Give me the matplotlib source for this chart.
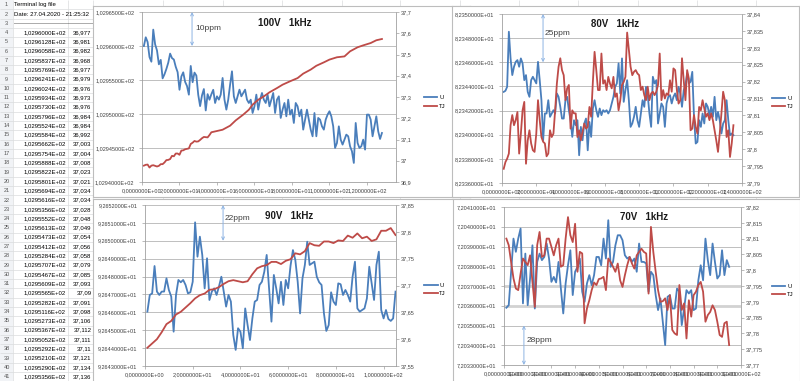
import numpy as np
import matplotlib.pyplot as plt
from matplotlib.patches import Rectangle
from matplotlib.ticker import FuncFormatter

plt.rcParams['font.family'] = ['Liberation Sans', 'DejaVu Sans']

W, H = 800, 381  # canvas in pixels

# ---- data ----
# terminal log (sheet rows 4..41) = first samples of the 100 V run
log_u = [102.96000, 102.96128, 102.96058, 102.95837, 102.95769, 102.96241, 102.96024, 102.95934,
         102.95730, 102.95796, 102.95524, 102.95584, 102.95662, 102.95754, 102.95888, 102.95822,
         102.95801, 102.95694, 102.95616, 102.95356, 102.95552, 102.95613, 102.95473, 102.95412,
         102.95284, 102.95707, 102.95467, 102.95609, 102.95565, 102.95282, 102.95116, 102.95273,
         102.95367, 102.95052, 102.95292, 102.95210, 102.95290, 102.95356]
log_t = [36.977, 36.981, 36.982, 36.968, 36.977, 36.979, 36.976, 36.973, 36.976, 36.984,
         36.984, 36.992, 37.003, 37.004, 37.008, 37.023, 37.021, 37.034, 37.034, 37.028,
         37.048, 37.049, 37.054, 37.056, 37.058, 37.079, 37.085, 37.093, 37.09, 37.091,
         37.098, 37.106, 37.112, 37.111, 37.11, 37.121, 37.134, 37.136]

# 100 V, samples 39..128
u100_tail = [102.95162, 102.95260, 102.95211, 102.95285, 102.95530, 102.95211, 102.95064, 102.95211,
             102.95432, 102.95628, 102.95260, 102.95162, 102.95260, 102.95358, 102.95260, 102.95309,
             102.95358, 102.95211, 102.95162, 102.95211, 102.95015, 102.95113, 102.95285, 102.95064,
             102.95211, 102.95309, 102.95211, 102.95162, 102.95285, 102.95113, 102.95211, 102.95309,
             102.95015, 102.95211, 102.95260, 102.94942, 102.95064, 102.95162, 102.94966, 102.95211,
             102.94991, 102.95064, 102.94868, 102.95162, 102.95113, 102.94966, 102.95064, 102.94770,
             102.94917, 102.95064, 102.94917, 102.94770, 102.94672, 102.95015, 102.94672, 102.94942,
             102.94917, 102.94819, 102.94770, 102.94917, 102.94991, 102.95040, 102.94966, 102.94819,
             102.94501, 102.94574, 102.94819, 102.94623, 102.94550, 102.94623, 102.94697, 102.94672,
             102.94525, 102.94452, 102.94280, 102.94868, 102.94574, 102.94501, 102.94525, 102.94623,
             102.94476, 102.94991, 102.94991, 102.94917, 102.94672, 102.94819, 102.94966, 102.94746,
             102.94633, 102.94721]
t100_tail_x = [40, 43, 47, 50, 54, 57, 59, 62, 65, 68, 72, 75, 79, 83, 86, 90, 93, 97, 100,
               104, 108, 111, 115, 118, 122, 125, 128]
t100_tail = [37.140, 37.146, 37.165, 37.190, 37.217, 37.240, 37.264, 37.287, 37.303, 37.322,
             37.342, 37.358, 37.374, 37.389, 37.410, 37.429, 37.447, 37.463, 37.476, 37.487,
             37.491, 37.515, 37.534, 37.543, 37.554, 37.567, 37.573]

# 80 V
u80 = [82.34355, 82.34364, 82.34397, 82.34853, 82.34632, 82.34494, 82.34563, 82.34604, 82.34618, 82.34563,
       82.34632, 82.34591, 82.34452, 82.34494, 82.34355, 82.34314, 82.34452, 82.34480, 82.34452, 82.34425,
       82.34604, 82.34452, 82.34286, 82.33954, 82.34176, 82.34176, 82.34286, 82.34148, 82.34176, 82.34203,
       82.34176, 82.34342, 82.34314, 82.34231, 82.34134, 82.34134, 82.34286, 82.34314, 82.34203, 82.34120,
       82.33982, 82.34120, 82.34079, 82.34120, 82.33830, 82.34065, 82.33954, 82.34093, 82.34134, 82.33871,
       82.34106, 82.33982, 82.34217, 82.34286, 82.34203, 82.34148, 82.34217, 82.34162, 82.34203, 82.34189,
       82.34203, 82.34176, 82.34203, 82.34259, 82.34314, 82.34397, 82.34425, 82.34591, 82.34342, 82.34632,
       82.34272, 82.34369, 82.34452, 82.34286, 82.34065, 82.34093, 82.34148, 82.34231, 82.34120, 82.34065,
       82.34176, 82.34286, 82.34231, 82.34397, 82.34328, 82.34176, 82.34065, 82.34480, 82.34425, 82.34452,
       82.34093, 82.34176, 82.34259, 82.34231, 82.34065, 82.34259, 82.34314, 82.34328, 82.34259, 82.34314,
       82.34342, 82.34286, 82.34397, 82.34342, 82.34231, 82.34369, 82.34411, 82.34508, 82.34425, 82.34438,
       82.34521, 82.34148, 82.33927, 82.33940, 82.34120, 82.34065, 82.34176, 82.34093, 82.34259, 82.34231,
       82.34162, 82.34231, 82.34148, 82.34314, 82.34120, 82.34189, 82.34120, 82.34010, 82.34093, 82.34120,
       82.34286, 82.34120, 82.33996, 82.34010, 82.33996]
t80 = [37.7942, 37.7962, 37.7972, 37.7987, 37.8071, 37.8101, 37.8071, 37.8086, 37.8110, 37.7987,
       37.8046, 37.8115, 37.8140, 37.7957, 37.8026, 37.8056, 37.8017, 37.7997, 37.7992, 37.8046,
       37.8145, 37.8086, 37.8036, 37.8022, 37.8017, 37.7979, 37.7987, 37.8056, 37.8036, 37.8046,
       37.8115, 37.8194, 37.8244, 37.8269, 37.8234, 37.8219, 37.8145, 37.8180, 37.8190, 37.8061,
       37.8115, 37.8106, 37.8106, 37.8036, 37.8056, 37.8026, 37.8051, 37.8076, 37.8061, 37.8066,
       37.8125, 37.8096, 37.8199, 37.8288, 37.8234, 37.8175, 37.8175, 37.8283, 37.8194, 37.8204,
       37.8175, 37.8214, 37.8194, 37.8180, 37.8214, 37.8155, 37.8165, 37.8115, 37.8145, 37.8190,
       37.8199, 37.8214, 37.8345, 37.8293, 37.8244, 37.8219, 37.8229, 37.8234, 37.8224, 37.8219,
       37.8175, 37.8185, 37.8160, 37.8145, 37.8185, 37.8145, 37.8165, 37.8170, 37.8160, 37.8170,
       37.8190, 37.8283, 37.8145, 37.8175, 37.8150, 37.8165, 37.8160, 37.8204, 37.8170, 37.8239,
       37.8234, 37.8175, 37.8135, 37.8145, 37.8269, 37.8204, 37.8145, 37.8234, 37.8209, 37.8056,
       37.8061, 37.8101, 37.8066, 37.8046, 37.8125, 37.8115, 37.8145, 37.8120, 37.8096, 37.8106,
       37.8086, 37.8106, 37.8086, 37.8056, 37.8026, 37.7992, 37.8046, 37.8106, 37.8170, 37.8145,
       37.8036, 37.8056, 37.7977, 37.8017, 37.8071]

# 90 V
u90 = [92.64604, 92.64697, 92.64706, 92.64859, 92.64716, 92.64697, 92.64716, 92.64716, 92.64790, 92.64725,
       92.64688, 92.64492, 92.64697, 92.64781, 92.64768, 92.64781, 92.64753, 92.64706, 92.64712, 92.64771,
       92.65103, 92.64911, 92.65023, 92.64921, 92.64734, 92.64902, 92.64669, 92.64716, 92.64734, 92.64697,
       92.64744, 92.64799, 92.64716, 92.64632, 92.64697, 92.64660, 92.64473, 92.64390, 92.64511, 92.64492,
       92.64399, 92.64622, 92.64529, 92.64445, 92.64566, 92.64660, 92.64669, 92.64753, 92.64771, 92.64827,
       92.64921, 92.64734, 92.64548, 92.64809, 92.64734, 92.64650, 92.64771, 92.64641, 92.64781, 92.64734,
       92.64861, 92.64948, 92.64893, 92.64771, 92.64594, 92.64790, 92.64865, 92.64995, 92.64865, 92.64874,
       92.64883, 92.64799, 92.64768, 92.64753, 92.64594, 92.64496, 92.64529, 92.64712, 92.64660, 92.64641,
       92.64762, 92.64757, 92.64697, 92.64725, 92.64697, 92.64660, 92.64799, 92.64883, 92.64622, 92.64604,
       92.64613, 92.64622, 92.64678, 92.64855, 92.64762, 92.64669, 92.64865, 92.64939, 92.64613, 92.64566,
       92.64613, 92.64563, 92.64552, 92.64566, 92.64716]
t90_x = list(range(1, 106, 2))
t90 = [37.584, 37.592, 37.600, 37.613, 37.628, 37.634, 37.646, 37.651, 37.659, 37.667,
       37.676, 37.682, 37.685, 37.692, 37.693, 37.697, 37.703, 37.708, 37.710, 37.708,
       37.706, 37.708, 37.721, 37.732, 37.736, 37.738, 37.744, 37.744, 37.740, 37.746,
       37.749, 37.760, 37.758, 37.764, 37.779, 37.775, 37.774, 37.782, 37.782, 37.779,
       37.784, 37.783, 37.793, 37.789, 37.797, 37.788, 37.791, 37.783, 37.786, 37.802,
       37.802, 37.807, 37.794]

# 70 V
u70 = [72.03590, 72.03603, 72.03772, 72.03940, 72.03873, 72.03940, 72.03991, 72.03612, 72.03864, 72.03603,
       72.03738, 72.03906, 72.03586, 72.03822, 72.03864, 72.03831, 72.03847, 72.03915, 72.03839, 72.03721,
       72.03746, 72.03718, 72.03822, 72.03687, 72.03561, 72.03713, 72.03805, 72.03881, 72.03654, 72.03772,
       72.03797, 72.03839, 72.03671, 72.03620, 72.03713, 72.03755, 72.03704, 72.03755, 72.03847, 72.03847,
       72.03805, 72.03940, 72.03839, 72.04033, 72.03797, 72.03822, 72.03906, 72.03957, 72.03957, 72.03932,
       72.03856, 72.03839, 72.03847, 72.03822, 72.03839, 72.03772, 72.03915, 72.03822, 72.03822, 72.03814,
       72.03671, 72.03772, 72.03755, 72.03654, 72.03578, 72.03637, 72.03519, 72.03401, 72.03645, 72.03654,
       72.03586, 72.03586, 72.03687, 72.03671, 72.03502, 72.03586, 72.03679, 72.03662, 72.03679, 72.03578,
       72.03586, 72.03729, 72.03805, 72.03729, 72.03940, 72.03831, 72.03755, 72.03915, 72.03822, 72.03738,
       72.03755, 72.03881, 72.03755, 72.03831, 72.03797]
t70 = [37.8100, 37.8079, 37.8026, 37.7974, 37.7942, 37.7937, 37.7989, 37.8037, 37.8026, 37.8016,
       37.8047, 37.7963, 37.7884, 37.8079, 37.8121, 37.8042, 37.8047, 37.8100, 37.8100, 37.8074,
       37.8047, 37.8079, 37.8100, 37.8011, 37.8016, 37.8100, 37.8168, 37.8111, 37.8089, 37.8147,
       37.7995, 37.8058, 37.8053, 37.7832, 37.7879, 37.7905, 37.7937, 37.7961, 37.7953, 37.7972,
       37.7974, 37.7979, 37.7937, 37.8037, 37.8026, 37.8011, 37.7995, 37.8021, 37.7968, 37.7947,
       37.7984, 37.8016, 37.8042, 37.8021, 37.8005, 37.8047, 37.8058, 37.8068, 37.8058, 37.8053,
       37.7926, 37.8137, 37.8058, 37.7995, 37.7937, 37.7900, 37.7902, 37.7911, 37.7874, 37.7921,
       37.7811, 37.7800, 37.7795, 37.7953, 37.7874, 37.7895, 37.7784, 37.7905, 37.7853, 37.7921,
       37.7932, 37.7953, 37.7963, 37.7932, 37.7837, 37.7858, 37.7868, 37.7889, 37.7874, 37.7837,
       37.7795, 37.7789, 37.7832, 37.7837, 37.7763]

BLUE = '#4a7ebb'
RED = '#be4b48'
GRID = '#b4b4b4'
AXIS = '#a0a0a0'
TXT = '#404040'
CELL = '#dadcdd'


def sci(v, pos=None):
    # Excel style "1,0296500E+02"
    return f"{v:.7E}".replace('.', ',')


def plain(v, pos=None):
    return f"{round(v, 4):g}".replace('.', ',')


def rect(x0, y0, x1, y1):
    # pixel box, origin top left -> figure fraction
    return [x0 / W, 1 - y1 / H, (x1 - x0) / W, (y1 - y0) / H]


fig = plt.figure(figsize=(W / 100, H / 100), dpi=100)

# ---- spreadsheet behind the charts ----
sheet = fig.add_axes([0, 0, 1, 1], zorder=0)
sheet.set_xlim(0, W)
sheet.set_ylim(H, 0)
sheet.axis('off')
sheet.add_patch(Rectangle((0, 0), 13, H, fc='#f1f3f6', ec='none'))
row_h = 9.3
sheet.hlines(9.35 + row_h * np.arange(41), 0, W, color=CELL, lw=0.5)
sheet.vlines([13, 68, 93, 163, 223, 282, 342, 400, 460, 519, 578, 638, 697, 756], 0, H,
             color=CELL, lw=0.5)


def row_y(r):
    return 4.7 + row_h * (r - 1)


for r in range(1, 42):
    sheet.text(6.5, row_y(r), str(r), ha='center', va='center', fontsize=4, color='#555555')
sheet.text(14, row_y(1), 'Terminal log file', va='center', fontsize=4.3)
sheet.text(14, row_y(2), 'Date: 27.04.2020 - 21:25:32', va='center', fontsize=4.3)
sheet.text(14, row_y(3), '-' * 40, va='center', fontsize=4.3)
for k, (u, t) in enumerate(zip(log_u, log_t)):
    sheet.text(66, row_y(4 + k), sci(u), ha='right', va='center', fontsize=4.3)
    sheet.text(91.5, row_y(4 + k), plain(t), ha='right', va='center', fontsize=4.3)


def chart(z, frame, plot, xmax, xstep, ulim, ustep, tlim, tstep):
    fr = fig.add_axes(rect(*frame), zorder=z)
    fr.set_xticks([])
    fr.set_yticks([])
    for s in fr.spines.values():
        s.set_color('#bdbdbd')
        s.set_linewidth(0.8)

    ax = fig.add_axes(rect(*plot), zorder=z + 1)
    ax.patch.set_visible(False)
    tw = ax.twinx()
    tw.set_zorder(z + 2)

    ax.set_xlim(0, xmax)
    ax.set_xticks(np.arange(0, xmax + 0.01, xstep))
    ax.set_ylim(*ulim)
    ax.set_yticks(np.linspace(*ulim, round((ulim[1] - ulim[0]) / ustep) + 1))
    tw.set_ylim(*tlim)
    tw.set_yticks(np.linspace(*tlim, round((tlim[1] - tlim[0]) / tstep) + 1))
    ax.xaxis.set_major_formatter(FuncFormatter(sci))
    ax.yaxis.set_major_formatter(FuncFormatter(sci))
    tw.yaxis.set_major_formatter(FuncFormatter(plain))

    ax.grid(axis='y', color=GRID, lw=0.6)
    ax.set_axisbelow(True)
    for s in ['top', 'right']:
        ax.spines[s].set_visible(False)
    for s in ['top', 'left', 'bottom']:
        tw.spines[s].set_visible(False)
    for s in [ax.spines['left'], ax.spines['bottom'], tw.spines['right']]:
        s.set_color(AXIS)
        s.set_linewidth(0.6)
    ax.tick_params(axis='y', length=2, width=0.5, color=AXIS, labelsize=4, pad=3.5, labelcolor=TXT)
    ax.tick_params(axis='x', length=2, width=0.5, color=AXIS, labelsize=4, pad=2.5, labelcolor=TXT)
    tw.tick_params(axis='y', length=2, width=0.5, color=AXIS, labelsize=4, pad=1.5, labelcolor=TXT)
    return ax, tw


def decorate(ax, tw, lu, lt, title, title_xy, note, note_xy, arrow_x, arrow_y, leg_xy):
    tw.text(*title_xy, title, transform=tw.transAxes, ha='center', va='center',
            fontsize=7, fontweight='bold', color='#1a1a1a')
    tw.text(*note_xy, note, transform=tw.transAxes, ha='left', va='center', fontsize=6, color=TXT)
    tw.annotate('', xy=(arrow_x, arrow_y[0]), xytext=(arrow_x, arrow_y[1]),
                xycoords='axes fraction', textcoords='axes fraction',
                arrowprops=dict(arrowstyle='<->', color='#8eb4e3', lw=0.7,
                                shrinkA=0, shrinkB=0, mutation_scale=5))
    ax.legend([lu, lt], ['U', 'TJ'], loc='center left', bbox_to_anchor=leg_xy, frameon=False,
              fontsize=4.2, handlelength=2.3, handletextpad=0.3, labelspacing=0.55,
              borderpad=0, borderaxespad=0)


# 100 V (top left)
u100 = log_u + u100_tail
t100_x = list(range(1, len(log_t) + 1)) + t100_tail_x
t100 = log_t + t100_tail
ax, tw = chart(1, (93, 6, 470, 197), (142, 12, 396, 182), 135.5, 20,
               (102.94, 102.965), 0.005, (36.9, 37.7), 0.1)
lu, = ax.plot(np.arange(1, len(u100) + 1), u100, color=BLUE, lw=1.3)
lt, = tw.plot(t100_x, t100, color=RED, lw=1.3)
decorate(ax, tw, lu, lt, '100V   1kHz', (0.561, 0.935), '10ppm', (0.209, 0.9),
         0.197, (1.0, 0.8), (1.11, 0.471))

# 90 V (bottom left)
ax, tw = chart(4, (93, 199, 470, 400), (145, 205, 396, 366), 105.2, 20,
               (92.643, 92.652), 0.001, (37.55, 37.85), 0.05)
lu, = ax.plot(np.arange(1, len(u90) + 1), u90, color=BLUE, lw=1.3)
lt, = tw.plot(t90_x, t90, color=RED, lw=1.3)
decorate(ax, tw, lu, lt, '90V   1kHz', (0.576, 0.932), '22ppm', (0.319, 0.917),
         0.311, (1.0, 7 / 9), (1.112, 0.475))

# 80 V (top right)
ax, tw = chart(7, (452, 6, 799.5, 197), (502, 14, 742, 183), 140, 20,
               (82.336, 82.35), 0.002, (37.79, 37.84), 0.005)
lu, = ax.plot(np.arange(1, len(u80) + 1), u80, color=BLUE, lw=1.3)
lt, = tw.plot(np.arange(1, len(t80) + 1), t80, color=RED, lw=1.3)
decorate(ax, tw, lu, lt, '80V   1kHz', (0.471, 0.94), '25ppm', (0.176, 0.886),
         0.171, (1.0, 5 / 7), (1.125, 0.476))

# 70 V (bottom right)
ax, tw = chart(10, (453, 199, 799.5, 400), (504, 207, 741, 365), 100, 10,
               (72.033, 72.041), 0.001, (37.77, 37.82), 0.005)
for g in ax.yaxis.get_gridlines()[3:5]:
    g.set_color('#d2d2d2')
    g.set_linewidth(2)
lu, = ax.plot(np.arange(1, len(u70) + 1), u70, color=BLUE, lw=1.3)
lt, = tw.plot(np.arange(1, len(t70) + 1), t70, color=RED, lw=1.3)
decorate(ax, tw, lu, lt, '70V   1kHz', (0.589, 0.937), '28ppm', (0.096, 0.154),
         0.084, (0.25, 0.0), (1.131, 0.472))

fig.savefig('out.png', dpi=100)
